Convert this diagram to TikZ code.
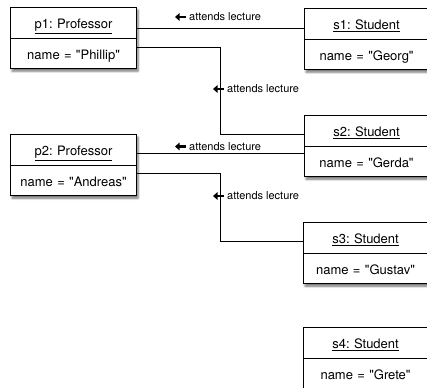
\documentclass[tikz,border=0pt]{standalone}
\usepackage{fontspec}
\setmainfont{TeX Gyre Heros}[Ligatures=TeXOff]
\usetikzlibrary{shapes.multipart,shadows.blur,arrows.meta}
\frenchspacing
% fixed-height strut for each compartment of an object box
\newcommand{\cellstrut}{\rule[-9pt]{0pt}{29.5pt}}
\begin{document}
\begin{tikzpicture}[x=1pt,y=-1pt,
  obj/.style={rectangle split, rectangle split parts=2, draw, line width=1.1pt,
    fill=white, text width=#1, align=center, inner xsep=0pt, inner ysep=0pt,
    font=\fontsize{13}{15}\selectfont, anchor=north west,
    blur shadow={shadow xshift=1.5pt, shadow yshift=-2.5pt, shadow blur steps=6, shadow opacity=55}},
  obj/.default=126pt,
  link/.style={line width=0.9pt},
  assoc/.style={font=\fontsize{11}{13}\selectfont, inner sep=0pt, anchor=west},
  dirmark/.style={line width=2.4pt, -{Triangle[length=4.5pt,width=7.5pt]}}]
\useasboundingbox (0,0) rectangle (427,387);

% objects
\node[obj] (p1) at (10,7) {\cellstrut\underline{p1: Professor}\nodepart{two}\cellstrut name = "Phillip"};
\node[obj] (p2) at (10,134) {\cellstrut\underline{p2: Professor}\nodepart{two}\cellstrut name = "Andreas"};
\node[obj=124pt] (s1) at (304,8) {\cellstrut\underline{s1: Student}\nodepart{two}\cellstrut name = "Georg"};
\node[obj=124pt] (s2) at (304,115) {\cellstrut\underline{s2: Student}\nodepart{two}\cellstrut name = "Gerda"};
\node[obj=124pt] (s3) at (303,222) {\cellstrut\underline{s3: Student}\nodepart{two}\cellstrut name = "Gustav"};
\node[obj=124pt] (s4) at (303,327) {\cellstrut\underline{s4: Student}\nodepart{two}\cellstrut name = "Grete"};

% links
\coordinate (b1) at (220.5,134);
\coordinate (b2) at (220.5,241);
\draw[link] (p1.east |- 0,28) -- (s1.west |- 0,28);
\draw[link] (p1.east |- 0,47.5) -| (b1) -- (s2.west |- b1);
\draw[link] (p2.east |- 0,153.5) -- (s2.west |- 0,153.5);
\draw[link] (p2.east |- 0,173) -| (b2) -- (s3.west |- b2);

% link labels with reading direction
\node[assoc] (l1) at (189,17) {attends lecture};
\node[assoc] (l2) at (227,89) {attends lecture};
\node[assoc] (l3) at (189,146.5) {attends lecture};
\node[assoc] (l4) at (227,196) {attends lecture};
\foreach \l in {l1,l2,l3,l4}
  \draw[dirmark] ([xshift=-3.5pt]\l.west) -- ++(-10.5,0);
\end{tikzpicture}
\end{document}
